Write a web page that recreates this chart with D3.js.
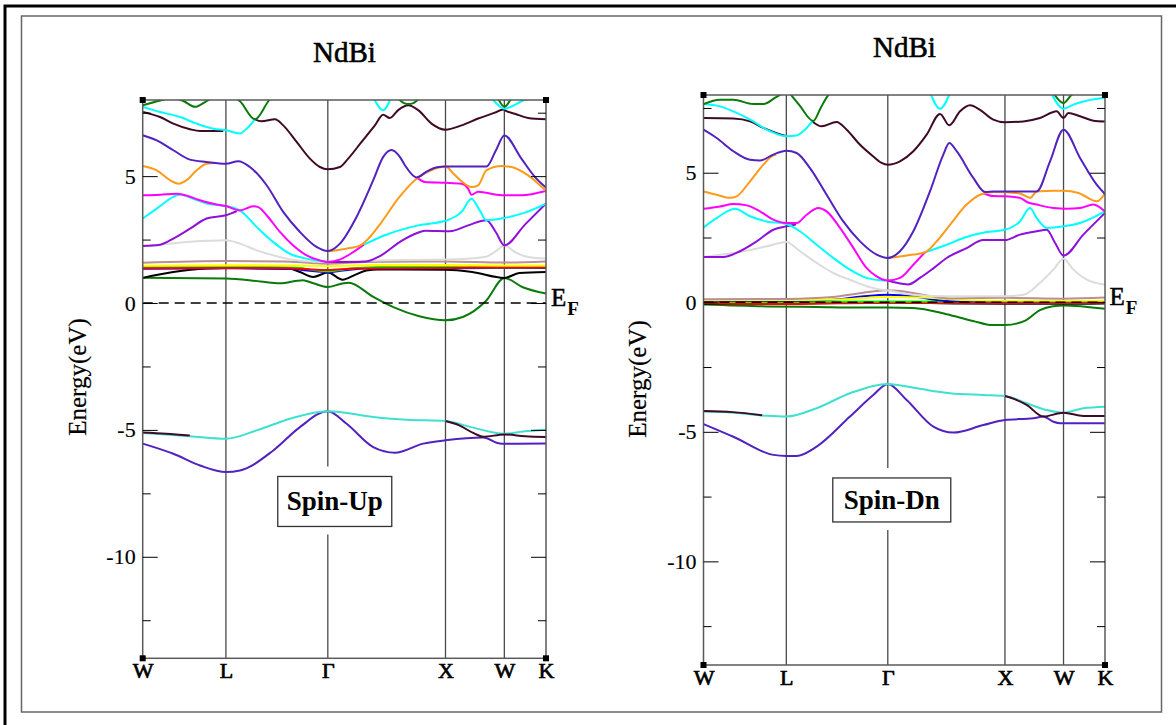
<!DOCTYPE html>
<html>
<head>
<meta charset="utf-8">
<script src="https://cdn.jsdelivr.net/npm/d3@7"></script>
<style>
  body { margin: 0; background: #fff; }
  svg { display: block; font-family: "Liberation Serif", "Times New Roman", serif; }
</style>
</head>
<body>
<svg id="chart" width="1176" height="725"></svg>
<script>
'use strict';

// high symmetry path (fcc), cumulative distances
const kLabels = ['W', 'L', 'Γ', 'X', 'W', 'K'];
const kPoints = [0, 0.707, 1.573, 2.573, 3.073, 3.427];
const yMajor = [-10, -5, 0, 5];
const yMinor = [-12.5, -7.5, -2.5, 2.5, 7.5];
const yRange = [-14, 8];

// ---- Spin-Up bands [k, E(eV)] ----
const upIndigoLow = [[0,-5.54],[0.26,-5.94],[0.487,-6.40],[0.707,-6.66],[0.826,-6.60],[1.11,-5.81],[1.336,-4.89],[1.573,-4.26],[1.733,-4.76],[1.959,-5.68],[2.143,-5.90],[2.384,-5.54],[2.573,-5.41],[2.893,-5.30],[3.035,-5.54],[3.073,-5.55],[3.427,-5.54]];
const upTurqLow = [[0,-5.12],[0.402,-5.25],[0.707,-5.35],[0.968,-5.02],[1.251,-4.56],[1.573,-4.26],[1.959,-4.49],[2.242,-4.60],[2.573,-4.65],[2.808,-4.91],[3.073,-5.15],[3.233,-5.06],[3.427,-4.99]];
const upMaroonLowA = [[0,-5.10],[0.2,-5.15],[0.40,-5.22]];
const upMaroonLowB = [[2.573,-4.65],[2.69,-4.82],[2.808,-5.12],[2.893,-5.27],[3.073,-5.18],[3.25,-5.25],[3.427,-5.28]];
const upGreen4Low = [[0,1.0],[0.707,0.97],[1.0,0.85],[1.165,0.78],[1.36,0.9],[1.45,0.78],[1.573,0.63],[1.68,0.75],[1.75,0.8],[1.96,0.24],[2.13,-0.16],[2.35,-0.52],[2.573,-0.68],[2.72,-0.55],[2.92,0.10],[3.073,0.99],[3.23,0.62],[3.427,0.37]];
const upBlack = [[0,0.99],[0.26,1.22],[0.543,1.36],[0.707,1.38],[1.25,1.35],[1.336,1.22],[1.449,1.03],[1.573,1.20],[1.70,0.92],[1.80,1.10],[1.90,1.28],[2.0,1.32],[2.573,1.31],[2.8,1.22],[3.073,0.99],[3.2,1.18],[3.427,1.22]];
const upBlue = [[0,1.35],[0.707,1.37],[1.25,1.35],[1.40,1.28],[1.573,1.22],[1.70,1.28],[1.9,1.36],[2.573,1.37],[3.427,1.38]];
const upGreen = [[0,1.42],[0.707,1.43],[1.3,1.40],[1.45,1.30],[1.573,1.25],[1.75,1.35],[2.0,1.42],[2.573,1.42],[3.073,1.40],[3.427,1.41]];
const upRed = [[0,1.37],[0.707,1.38],[1.25,1.37],[1.4,1.33],[1.573,1.30],[1.8,1.36],[2.573,1.38],[2.8,1.40],[3.073,1.40],[3.427,1.40]];
const upYellow = [[0,1.47],[0.707,1.49],[1.3,1.48],[1.573,1.45],[2.0,1.50],[2.573,1.50],[3.073,1.48],[3.427,1.48]];
const upBrown = [[0,1.59],[0.707,1.66],[1.2,1.64],[1.45,1.57],[1.573,1.55],[1.9,1.62],[2.573,1.64],[3.073,1.60],[3.427,1.64]];
const upGrey = [[0,2.25],[0.15,2.30],[0.402,2.41],[0.707,2.47],[0.826,2.34],[0.968,2.08],[1.11,1.88],[1.251,1.72],[1.4,1.65],[1.573,1.62],[2.0,1.68],[2.573,1.71],[2.907,1.81],[2.992,2.01],[3.073,2.27],[3.162,2.01],[3.275,1.81],[3.427,1.75]];
const upVioletA = [[0,2.25],[0.147,2.30],[0.26,2.54],[0.402,2.93],[0.543,3.33],[0.707,3.46],[0.80,3.62]];
const upVioletB = [[1.573,1.62],[1.75,1.62],[1.90,1.64],[2.015,1.85],[2.199,2.45],[2.327,2.75],[2.40,2.85],[2.61,2.83],[2.765,3.06],[2.921,3.26],[3.0,2.8],[3.073,2.27],[3.25,3.1],[3.427,3.92]];
const upCyanA = [[0,3.33],[0.119,3.72],[0.26,4.18],[0.317,4.28],[0.43,4.11],[0.543,3.92],[0.707,3.82],[0.826,3.65],[0.968,3.0],[1.11,2.4],[1.251,1.94],[1.393,1.75],[1.506,1.66],[1.573,1.63]];
const upCyanB = [[1.88,2.3],[2.058,2.67],[2.341,3.06],[2.573,3.24],[2.709,3.59],[2.794,4.11],[2.864,3.65],[2.921,3.26],[3.073,3.35],[3.247,3.56],[3.427,3.92]];
const upMagentaA = [[0,4.25],[0.147,4.27],[0.289,4.31],[0.345,4.27],[0.487,4.05],[0.628,3.88],[0.707,3.82],[0.826,3.65],[0.94,3.81],[0.982,3.78],[1.053,3.46],[1.166,2.8],[1.279,2.27],[1.393,1.88],[1.506,1.68],[1.573,1.62],[1.68,1.72],[1.78,1.98],[1.88,2.3]];
const upMagentaB = [[2.327,4.95],[2.40,4.77],[2.573,4.74],[2.709,4.70],[2.765,4.51],[2.794,4.27],[2.85,4.38],[3.05,4.25],[3.218,4.25],[3.427,4.42]];
const upOrangeA = [[0,5.40],[0.119,5.23],[0.232,4.84],[0.303,4.70],[0.373,4.84],[0.458,5.23],[0.543,5.49],[0.62,5.52]];
const upOrangeB = [[1.573,2.04],[1.73,2.14],[1.85,2.27],[1.89,2.41],[2.03,3.19],[2.17,4.11],[2.327,4.9],[2.45,5.23],[2.573,5.38],[2.64,5.1],[2.709,4.8],[2.794,4.57],[2.85,4.64],[2.921,5.23],[3.049,5.4],[3.134,5.36],[3.275,5.03],[3.427,4.42]];
const upIndigo = [[0,6.61],[0.119,6.41],[0.26,6.02],[0.402,5.65],[0.543,5.56],[0.707,5.49],[0.812,5.59],[0.911,5.36],[1.053,4.64],[1.194,3.59],[1.336,2.8],[1.477,2.21],[1.573,2.05],[1.676,2.34],[1.817,3.39],[1.959,4.84],[2.044,5.76],[2.114,6.03],[2.185,5.76],[2.228,5.43],[2.327,4.95],[2.42,5.2],[2.5,5.35],[2.573,5.38],[2.921,5.38],[3.0,6.0],[3.073,6.6],[3.218,5.69],[3.332,4.97],[3.427,4.55]];
const upMaroonA = [[0,7.53],[0.147,7.33],[0.26,7.07],[0.402,6.85],[0.487,6.78],[0.685,6.78]];
const upMaroonB = [[0.954,7.24],[1.01,7.16],[1.124,7.24],[1.194,7.0],[1.308,6.35],[1.421,5.69],[1.506,5.36],[1.573,5.27],[1.676,5.36],[1.746,5.69],[1.86,6.35],[1.973,7.0],[2.043,7.42],[2.1,7.29],[2.171,7.6],[2.256,7.79],[2.341,7.6],[2.454,7.07],[2.573,6.83],[2.709,7.0],[2.85,7.27],[2.992,7.5],[3.063,7.63],[3.091,7.56],[3.162,7.46],[3.275,7.29],[3.427,7.24]];
const upCyanTopA = [[0,7.73],[0.147,7.53],[0.317,7.33],[0.458,7.07],[0.6,6.87],[0.707,6.81],[0.826,6.68],[0.883,6.87],[0.954,7.24]];
const upCyanTopB = [[1.96,8.1],[2.043,7.6],[2.11,8.1]];
const upCyanTopC = [[2.97,8.05],[3.073,7.66],[3.24,8.0],[3.3,8.1]];
const upGreen4TopA = [[0,7.79],[0.15,7.98],[0.25,8.08],[0.345,7.96],[0.444,7.73],[0.543,7.96],[0.62,8.15]];
const upGreen4TopB = [[0.76,8.15],[0.826,7.95],[0.954,7.24],[1.067,7.95],[1.10,8.15]];
const upGreen4TopC = [[2.16,8.1],[2.22,7.88],[2.26,7.84],[2.30,7.88],[2.36,8.1]];
const upGreen4TopD = [[3.02,8.05],[3.073,7.74],[3.13,8.05]];

// ---- Spin-Dn bands ----
const dnIndigoLow = [[0,-4.70],[0.255,-5.19],[0.596,-5.89],[0.707,-5.93],[0.795,-5.93],[0.966,-5.57],[1.25,-4.41],[1.449,-3.58],[1.573,-3.15],[1.734,-3.77],[1.962,-4.80],[2.132,-5.03],[2.388,-4.74],[2.573,-4.54],[2.815,-4.48],[2.9,-4.41],[2.986,-4.61],[3.043,-4.67],[3.073,-4.67],[3.427,-4.67]];
const dnTurqLow = [[0,-4.22],[0.255,-4.26],[0.539,-4.38],[0.707,-4.41],[0.966,-4.09],[1.25,-3.51],[1.573,-3.15],[1.819,-3.32],[2.104,-3.51],[2.388,-3.58],[2.573,-3.62],[2.758,-3.90],[2.929,-4.16],[3.073,-4.26],[3.242,-4.09],[3.427,-4.03]];
const dnMaroonLowA = [[0,-4.20],[0.25,-4.24],[0.5,-4.36]];
const dnMaroonLowB = [[2.573,-3.62],[2.66,-3.75],[2.758,-3.96],[2.9,-4.41],[3.073,-4.26],[3.242,-4.39],[3.427,-4.39]];
const dnGreen4Low = [[0,-0.09],[0.539,-0.16],[0.966,-0.18],[1.307,-0.2],[1.573,-0.2],[1.79,-0.22],[2.076,-0.46],[2.3,-0.72],[2.466,-0.88],[2.573,-0.88],[2.742,-0.72],[2.872,-0.3],[2.983,-0.15],[3.073,-0.12],[3.427,-0.25]];
const dnBlack = [[0,-0.06],[0.707,-0.05],[1.573,-0.01],[2.2,-0.05],[2.573,-0.06],[3.427,-0.05]];
const dnRed = [[0,-0.03],[0.3,-0.06],[0.707,-0.07],[1.0,-0.05],[1.573,-0.02],[2.573,-0.04],[3.427,-0.03]];
const dnGreen = [[0,0.02],[1.573,0.03],[3.427,0.01]];
const dnBlue = [[0,0.05],[0.707,0.06],[1.1,0.10],[1.35,0.22],[1.573,0.29],[1.8,0.22],[2.0,0.08],[2.2,0.03],[3.427,0.03]];
const dnYellow = [[0,0.08],[0.707,0.09],[1.2,0.12],[1.573,0.20],[1.9,0.18],[2.2,0.09],[2.573,0.06],[3.427,0.06]];
const dnBrown = [[0,0.12],[0.707,0.13],[1.1,0.20],[1.35,0.36],[1.573,0.46],[1.79,0.36],[1.95,0.23],[2.1,0.15],[2.573,0.17],[3.073,0.14],[3.427,0.18]];
const dnGrey = [[0,1.75],[0.255,1.90],[0.539,2.16],[0.707,2.33],[0.823,1.97],[0.966,1.52],[1.108,1.13],[1.25,0.87],[1.393,0.62],[1.506,0.49],[1.573,0.45],[1.79,0.29],[2.076,0.23],[2.573,0.23],[2.73,0.29],[2.872,0.75],[2.986,1.26],[3.073,1.68],[3.157,1.26],[3.271,0.87],[3.427,0.68]];
const dnVioletA = [[0,1.75],[0.169,1.75],[0.311,1.97],[0.454,2.35],[0.596,2.80],[0.707,2.93],[0.79,3.0]];
const dnVioletB = [[1.573,0.84],[1.65,0.75],[1.748,0.69],[1.85,0.95],[1.962,1.31],[2.076,1.71],[2.246,2.09],[2.388,2.40],[2.573,2.40],[2.701,2.61],[2.844,2.74],[2.929,2.80],[3.0,2.3],[3.073,1.80],[3.242,2.61],[3.427,3.45]];
const dnCyanA = [[0,2.89],[0.112,3.25],[0.269,3.61],[0.397,3.32],[0.539,3.12],[0.707,3.02],[0.823,2.74],[0.966,2.22],[1.108,1.71],[1.25,1.26],[1.393,0.94],[1.506,0.85],[1.573,0.84]];
const dnCyanB = [[1.89,1.93],[2.076,2.22],[2.218,2.48],[2.417,2.71],[2.573,2.80],[2.701,3.12],[2.787,3.64],[2.844,3.25],[2.929,2.87],[3.073,2.93],[3.214,3.06],[3.427,3.51]];
const dnMagentaA = [[0,3.61],[0.141,3.70],[0.255,3.79],[0.368,3.74],[0.482,3.51],[0.596,3.19],[0.707,3.06],[0.795,3.06],[0.88,3.38],[0.98,3.64],[1.051,3.51],[1.165,2.87],[1.279,2.10],[1.393,1.32],[1.478,1.0],[1.573,0.84],[1.677,0.94],[1.791,1.45],[1.89,1.93]];
const dnMagentaB = [[2.39,4.20],[2.474,4.10],[2.573,4.09],[2.70,4.03],[2.77,3.85],[2.844,3.77],[2.986,3.64],[3.10,3.61],[3.214,3.64],[3.328,3.77],[3.427,3.50]];
const dnOrangeA = [[0,4.28],[0.112,4.15],[0.226,4.03],[0.283,4.09],[0.397,4.67],[0.511,5.31],[0.582,5.63],[0.62,5.70]];
const dnOrangeB = [[1.573,1.71],[1.677,1.77],[1.791,1.84],[1.89,1.93],[1.99,2.35],[2.104,2.99],[2.246,3.77],[2.36,4.15],[2.474,4.26],[2.573,4.25],[2.70,4.20],[2.79,4.03],[2.844,4.28],[3.0,4.30],[3.073,4.30],[3.2,4.22],[3.356,3.90],[3.427,4.20]];
const dnIndigo = [[0,6.66],[0.112,6.34],[0.255,5.83],[0.397,5.50],[0.482,5.47],[0.596,5.70],[0.707,5.85],[0.795,5.76],[0.909,5.18],[1.051,4.15],[1.193,3.12],[1.336,2.35],[1.478,1.84],[1.573,1.71],[1.677,1.97],[1.791,2.74],[1.933,4.28],[2.047,5.70],[2.098,6.15],[2.161,5.83],[2.303,4.80],[2.403,4.26],[2.474,4.28],[2.573,4.28],[2.844,4.28],[2.958,5.44],[3.073,6.66],[3.214,5.57],[3.356,4.54],[3.427,4.18]];
const dnMaroonA = [[0,7.11],[0.255,7.09],[0.397,6.98],[0.511,6.73],[0.624,6.53],[0.70,6.42]];
const dnMaroonB = [[0.929,6.98],[1.008,6.79],[1.136,6.96],[1.222,6.66],[1.336,6.08],[1.449,5.63],[1.52,5.38],[1.573,5.31],[1.677,5.44],[1.791,5.83],[1.905,6.47],[2.019,7.27],[2.098,6.83],[2.19,7.37],[2.275,7.60],[2.36,7.43],[2.474,7.05],[2.573,6.95],[2.73,6.98],[2.872,7.11],[3.015,7.37],[3.073,7.11],[3.114,7.31],[3.214,7.18],[3.328,7.01],[3.427,6.98]];
const dnCyanTopA = [[0,7.65],[0.141,7.56],[0.283,7.31],[0.425,6.98],[0.567,6.60],[0.707,6.41],[0.795,6.44],[0.866,6.66],[0.929,6.98]];
const dnCyanTopB = [[1.93,8.15],[2.019,7.47],[2.11,8.15]];
const dnCyanTopC = [[2.97,8.05],[3.073,7.47],[3.157,7.63],[3.27,7.78],[3.427,7.89]];
const dnGreen4TopA = [[0,7.65],[0.141,7.82],[0.255,7.82],[0.425,7.65],[0.511,7.65],[0.62,7.92],[0.69,8.1]];
const dnGreen4TopB = [[0.73,8.1],[0.82,7.6],[0.937,7.0],[1.0,7.5],[1.065,8.0],[1.09,8.12]];
const dnGreen4TopC = [[2.99,8.05],[3.073,7.69],[3.14,8.0],[3.17,8.1]];

// xmgrace palette
const colors = {
  black: '#000000', red: '#ff0000', green: '#00ff00', blue: '#0000ff', yellow: '#ffff00',
  brown: '#bc8f8f', grey: '#dcdcdc', violet: '#8f10d8', cyan: '#00ffff', magenta: '#ff00ff',
  orange: '#ff9a1a', indigo: '#5222c0', maroon: '#3e0a26', turquoise: '#40e0d0', green4: '#0a7a0a'
};

const upBands = [
  ['indigo', upIndigoLow], ['turquoise', upTurqLow], ['maroon', upMaroonLowA], ['maroon', upMaroonLowB],
  ['green4', upGreen4Low], ['black', upBlack], ['blue', upBlue], ['green', upGreen], ['red', upRed],
  ['yellow', upYellow], ['brown', upBrown], ['grey', upGrey],
  ['violet', upVioletA], ['violet', upVioletB], ['cyan', upCyanA], ['cyan', upCyanB],
  ['magenta', upMagentaA], ['magenta', upMagentaB], ['orange', upOrangeA], ['orange', upOrangeB],
  ['indigo', upIndigo], ['maroon', upMaroonA], ['maroon', upMaroonB],
  ['cyan', upCyanTopA], ['cyan', upCyanTopB], ['cyan', upCyanTopC],
  ['green4', upGreen4TopA], ['green4', upGreen4TopB], ['green4', upGreen4TopC], ['green4', upGreen4TopD]
];
const dnBands = [
  ['indigo', dnIndigoLow], ['turquoise', dnTurqLow], ['maroon', dnMaroonLowA], ['maroon', dnMaroonLowB],
  ['green4', dnGreen4Low], ['black', dnBlack], ['red', dnRed], ['green', dnGreen], ['blue', dnBlue],
  ['yellow', dnYellow], ['brown', dnBrown], ['grey', dnGrey],
  ['violet', dnVioletA], ['violet', dnVioletB], ['cyan', dnCyanA], ['cyan', dnCyanB],
  ['magenta', dnMagentaA], ['magenta', dnMagentaB], ['orange', dnOrangeA], ['orange', dnOrangeB],
  ['indigo', dnIndigo], ['maroon', dnMaroonA], ['maroon', dnMaroonB],
  ['cyan', dnCyanTopA], ['cyan', dnCyanTopB], ['cyan', dnCyanTopC],
  ['green4', dnGreen4TopA], ['green4', dnGreen4TopB], ['green4', dnGreen4TopC]
];

const panels = [
  { x0: 142.7, x1: 546, y0: 100, y1: 658.3, title: [344.5, 62], ylab: [86, 377], ef: [551, 306],
    box: { dk: 0.059, E: -7.82, w: 114, h: 50, text: 'Spin-Up' }, xPad: 4, bands: upBands },
  { x0: 703.5, x1: 1105, y0: 95, y1: 665, title: [904.5, 57], ylab: [646, 379], ef: [1109.5, 305],
    box: { dk: 0.034, E: -7.63, w: 118, h: 44, text: 'Spin-Dn' }, xPad: 4.5, bands: dnBands }
];

const svg = d3.select('#chart');

// outer borders
svg.append('path')
  .attr('d', 'M5,725 V6 H1176')
  .attr('fill', 'none')
  .attr('stroke', '#000')
  .attr('stroke-width', 3);
svg.append('rect')
  .attr('x', 21.5).attr('y', 16)
  .attr('width', 1140).attr('height', 696)
  .attr('fill', 'none')
  .attr('stroke', '#666')
  .attr('stroke-width', 1.5);

// slightly thicker glyphs, the reference text looks heavy
function heavy(sel, w) {
  return sel.attr('stroke', '#000').attr('stroke-width', w).attr('paint-order', 'stroke');
}

function drawPanel(p, id) {
  const x = d3.scaleLinear().domain([0, kPoints[kPoints.length - 1]]).range([p.x0, p.x1]);
  const y = d3.scaleLinear().domain(yRange).range([p.y1, p.y0]);
  const g = svg.append('g');

  g.append('clipPath').attr('id', 'clip' + id)
    .append('rect')
    .attr('x', p.x0).attr('y', p.y0)
    .attr('width', p.x1 - p.x0).attr('height', p.y1 - p.y0);

  // label box position (just right of Gamma)
  const bx = x(kPoints[2] + p.box.dk);
  const by = y(p.box.E);
  const gapTop = by - p.box.h / 2 - 10;
  const gapBot = by + p.box.h / 2 + 8;

  // high symmetry lines
  kPoints.slice(1, -1).forEach((k, i) => {
    const segs = i === 1 ? [[p.y0, gapTop], [gapBot, p.y1]] : [[p.y0, p.y1]];
    segs.forEach(s => {
      g.append('line')
        .attr('x1', x(k)).attr('x2', x(k))
        .attr('y1', s[0]).attr('y2', s[1])
        .attr('stroke', '#4a4a4a')
        .attr('stroke-width', 1.3);
    });
  });

  // bands
  const line = d3.line()
    .x(d => x(d[0]))
    .y(d => y(d[1]))
    .curve(d3.curveMonotoneX);

  g.append('g')
    .attr('clip-path', `url(#clip${id})`)
    .selectAll('path')
    .data(p.bands)
    .join('path')
    .attr('d', d => line(d[1]))
    .attr('fill', 'none')
    .attr('stroke', d => colors[d[0]])
    .attr('stroke-width', 2)
    .attr('stroke-linejoin', 'round');

  // Fermi level
  g.append('line')
    .attr('x1', p.x0).attr('x2', p.x1)
    .attr('y1', y(0)).attr('y2', y(0))
    .attr('stroke', '#000')
    .attr('stroke-width', 1.5)
    .attr('stroke-dasharray', '10,6');

  // frame
  g.append('rect')
    .attr('x', p.x0).attr('y', p.y0)
    .attr('width', p.x1 - p.x0).attr('height', p.y1 - p.y0)
    .attr('fill', 'none')
    .attr('stroke', '#5a5a5a')
    .attr('stroke-width', 1.5);

  // y axis, ticks pointing inwards on both sides
  const axL = g.append('g')
    .attr('transform', `translate(${p.x0},0)`)
    .call(d3.axisLeft(y).tickValues(yMajor).tickSizeInner(-15).tickSizeOuter(0)
      .tickPadding(7).tickFormat(d => String(d)));
  axL.select('.domain').remove();
  axL.attr('font-size', 22).attr('font-family', null);
  heavy(axL.selectAll('text'), 0.15);

  const axLm = g.append('g')
    .attr('transform', `translate(${p.x0},0)`)
    .call(d3.axisLeft(y).tickValues(yMinor).tickSizeInner(-8).tickSizeOuter(0).tickFormat(''));
  axLm.select('.domain').remove();

  const axR = g.append('g')
    .attr('transform', `translate(${p.x1},0)`)
    .call(d3.axisRight(y).tickValues(yMajor).tickSizeInner(-15).tickSizeOuter(0).tickFormat(''));
  axR.select('.domain').remove();

  const axRm = g.append('g')
    .attr('transform', `translate(${p.x1},0)`)
    .call(d3.axisRight(y).tickValues(yMinor).tickSizeInner(-8).tickSizeOuter(0).tickFormat(''));
  axRm.select('.domain').remove();

  // x axis labels
  const axB = g.append('g')
    .attr('transform', `translate(0,${p.y1})`)
    .call(d3.axisBottom(x).tickValues(kPoints).tickSize(0).tickPadding(p.xPad)
      .tickFormat((d, i) => kLabels[i]));
  axB.select('.domain').remove();
  axB.attr('font-size', 22).attr('font-family', null);
  heavy(axB.selectAll('text').attr('fill', '#000'), 0.7);

  // corner handles
  [[p.x0, p.y0], [p.x1, p.y0], [p.x0, p.y1], [p.x1, p.y1]].forEach(c => {
    g.append('rect')
      .attr('x', c[0] - 3).attr('y', c[1] - 3)
      .attr('width', 6).attr('height', 6)
      .attr('fill', '#000');
  });

  // title
  heavy(g.append('text')
    .attr('x', p.title[0]).attr('y', p.title[1])
    .attr('text-anchor', 'middle')
    .attr('font-size', 29)
    .text('NdBi'), 0.6);

  // y label
  heavy(g.append('text')
    .attr('transform', `translate(${p.ylab[0]},${p.ylab[1]}) rotate(-90)`)
    .attr('text-anchor', 'middle')
    .attr('font-size', 25)
    .text('Energy(eV)'), 0.2);

  // E_F
  const ef = g.append('text')
    .attr('x', p.ef[0]).attr('y', p.ef[1])
    .attr('font-size', 25);
  heavy(ef.append('tspan').text('E'), 0.5);
  ef.append('tspan').attr('dy', 9).attr('dx', 1).attr('font-size', 19).attr('font-weight', 'bold').text('F');

  // spin box
  g.append('rect')
    .attr('x', bx - p.box.w / 2).attr('y', by - p.box.h / 2)
    .attr('width', p.box.w).attr('height', p.box.h)
    .attr('fill', '#fff')
    .attr('stroke', '#333')
    .attr('stroke-width', 1.3);
  g.append('text')
    .attr('x', bx).attr('y', by + 9)
    .attr('text-anchor', 'middle')
    .attr('font-size', 27)
    .attr('font-weight', 'bold')
    .text(p.box.text);
}

panels.forEach((p, i) => drawPanel(p, i));
</script>
</body>
</html>
